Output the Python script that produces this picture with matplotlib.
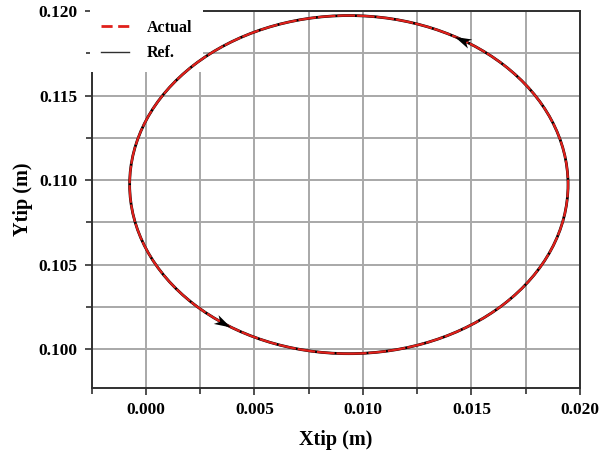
import numpy as np
import matplotlib
matplotlib.use("Agg")
import matplotlib.pyplot as plt
from matplotlib.patches import Ellipse
from matplotlib.lines import Line2D
from matplotlib.markers import MarkerStyle
from matplotlib.path import Path
from matplotlib.ticker import MultipleLocator

# tip trajectory (ellipse fitted to the measured path)
center_x = 0.00935
center_y = 0.10973
radius_x = 0.0101
radius_y = 0.0100

# direction markers, angle along the path in degrees
arrow_angles = [59, 235]

x_ticks = [0.000, 0.005, 0.010, 0.015, 0.020]
y_ticks = [0.100, 0.105, 0.110, 0.115, 0.120]

plt.rcParams['font.family'] = ['Liberation Serif', 'DejaVu Serif']
plt.rcParams['font.weight'] = 'bold'

fig = plt.figure(figsize=(6.07, 4.54), dpi=100)
ax = fig.add_axes([0.151, 0.1454, 0.8045, 0.8304])

ax.set_xlim(-0.0025, 0.0200)
ax.set_ylim(0.0977, 0.1200)

ax.xaxis.set_minor_locator(MultipleLocator(0.0025))
ax.yaxis.set_minor_locator(MultipleLocator(0.0025))
ax.set_xticks(x_ticks)
ax.set_yticks(y_ticks)
ax.set_xticklabels([f"{v:.3f}" for v in x_ticks], fontsize=12.5, fontweight='bold')
ax.set_yticklabels([f"{v:.3f}" for v in y_ticks], fontsize=12.5, fontweight='bold')

ax.grid(True, which='both', color='#a8a8a8', linewidth=1.4)
ax.set_axisbelow(True)
ax.tick_params(which='major', direction='out', length=5, width=1.2, color='#303030', pad=5)
ax.tick_params(which='minor', direction='out', length=4, width=1.2, color='#303030')
for side in ax.spines:
    ax.spines[side].set_linewidth(1.4)
    ax.spines[side].set_color('#303030')

ref = Ellipse((center_x, center_y), 2 * radius_x, 2 * radius_y,
              fill=False, edgecolor='black', linewidth=2.0, zorder=3)
act = Ellipse((center_x, center_y), 2 * radius_x, 2 * radius_y,
              fill=False, edgecolor='#e0201b', linewidth=1.6,
              linestyle=(0, (8, 0.8)), zorder=4)
ax.add_patch(ref)
ax.add_patch(act)

# notched arrowhead pointing along +x
head = Path([(1, 0), (-1, 0.6), (-0.45, 0), (-1, -0.6), (1, 0)],
            [Path.MOVETO, Path.LINETO, Path.LINETO, Path.LINETO, Path.CLOSEPOLY])

# arrowheads showing the direction of travel (counter-clockwise)
for a in arrow_angles:
    t = np.deg2rad(a)
    px, py = center_x + radius_x * np.cos(t), center_y + radius_y * np.sin(t)
    # tangent direction measured on screen
    p0 = ax.transData.transform((px, py))
    p1 = ax.transData.transform((px - radius_x * np.sin(t), py + radius_y * np.cos(t)))
    ang = np.degrees(np.arctan2(p1[1] - p0[1], p1[0] - p0[0]))
    m = MarkerStyle(head).rotated(deg=ang)
    ax.plot([px], [py], marker=m, markersize=12, color='black',
            markeredgewidth=0, linestyle='none', zorder=6)

handles = [Line2D([], [], color='#e0201b', linestyle=(0, (4, 2)), linewidth=2.0),
           Line2D([], [], color='#303030', linewidth=1.0)]
leg = ax.legend(handles, ['Actual', 'Ref.'], loc='upper left',
                bbox_to_anchor=(-0.004, 1.0066), borderaxespad=0,
                prop={'size': 11.5, 'weight': 'bold'},
                handlelength=1.75, handletextpad=1.1, labelspacing=0.6,
                borderpad=0.7, fancybox=False, framealpha=1,
                facecolor='white', edgecolor='none')
# above the spines and grid, below the trajectory
leg.set_zorder(2.8)

ax.set_xlabel('Xtip (m)', fontsize=14.5, fontweight='bold', labelpad=9)
ax.set_ylabel('Ytip (m)', fontsize=14.5, fontweight='bold', labelpad=4)

fig.savefig('out.png', dpi=100)
